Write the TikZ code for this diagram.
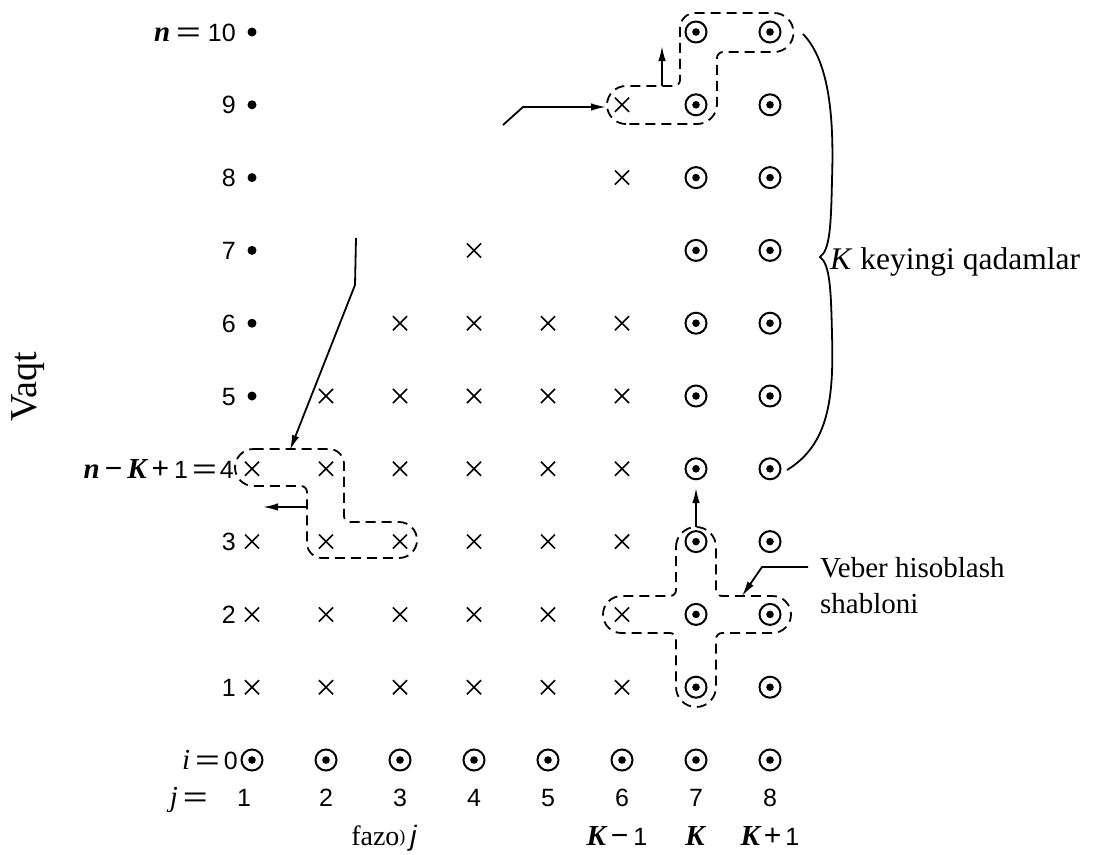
\documentclass[tikz,border=0pt]{standalone}
\usepackage{fontspec}
\usepackage{graphicx}
\setmainfont{Liberation Serif}
\setsansfont{Liberation Sans}
\usetikzlibrary{shapes.misc,arrows.meta}

% variable names, operators and a wide equals sign
\newcommand{\bivar}[1]{{\fontsize{29}{30}\selectfont\rmfamily\bfseries\itshape #1}}
\newcommand{\itvar}[1]{{\fontsize{29}{30}\selectfont\rmfamily\itshape #1}}
\newcommand{\bigop}[1]{{\fontsize{30}{30}\selectfont #1}}
\newcommand{\weq}{\scalebox{1.7}[1.1]{=}}

\begin{document}
\begin{tikzpicture}[x=1pt,y=-1pt,
  circmark/.style={circle,draw,line width=2pt,minimum size=21pt,inner sep=0pt,
    path picture={\fill (path picture bounding box.center) circle (3.8pt);}},
  crossmark/.style={cross out,draw,line width=1.6pt,minimum size=12.5pt,inner sep=0pt},
  dotmark/.style={circle,fill,minimum size=9pt,inner sep=0pt},
  lab/.style={inner sep=0pt,font=\fontsize{25}{29}\selectfont\sffamily},
  rowlab/.style={lab,anchor=base east},
  serif/.style={inner sep=0pt,font=\fontsize{29}{36}\selectfont\rmfamily},
  dashline/.style={line width=1.8pt,dash pattern=on 10pt off 6pt},
  arr/.style={line width=1.8pt,-{Latex[length=15pt,width=7.5pt]}},
  plain/.style={line width=1.8pt}]

\useasboundingbox (0,0) rectangle (1094,854);

% grid points: dots, crosses and circled dots
\foreach \n in {5,...,10}
  \node[dotmark] (d-\n) at (252,{760-72.8*\n}) {};
\foreach \j/\n in {6/9,6/8,4/7,3/6,4/6,5/6,6/6,2/5,3/5,4/5,5/5,6/5}
  \node[crossmark] (x-\j-\n) at ({252+74*(\j-1)},{760-72.8*\n}) {};
\foreach \n in {1,...,4}
  \foreach \j in {1,...,6}
    \node[crossmark] (x-\j-\n) at ({252+74*(\j-1)},{760-72.8*\n}) {};
\foreach \n in {1,...,10}
  \foreach \j in {7,8}
    \node[circmark] (c-\j-\n) at ({252+74*(\j-1)},{760-72.8*\n}) {};
\foreach \j in {1,...,8}
  \node[circmark] (c-\j-0) at ({252+74*(\j-1)},760) {};

% time level labels
\foreach \n in {1,2,3,5,6,7,8,9}
  \node[rowlab] (r-\n) at (236,{769-72.8*\n}) {\n};
\node[rowlab] (r-10) at (236,41) {\bivar{n}\hspace{6pt}\weq\hspace{7pt}10};
\node[rowlab] (r-4) at (234,478) {\bivar{n}\hspace{5pt}\bigop{−}\hspace{5pt}\bivar{K}\hspace{5pt}\bigop{+}\hspace{5pt}1\hspace{4pt}\weq\hspace{3pt}4};
\node[rowlab] (r-0) at (238,769) {\itvar{i}\hspace{5pt}\weq\hspace{4pt}0};

% space index labels
\node[lab,anchor=base east] (jeq) at (208,806) {\itvar{j}\hspace{5pt}\weq};
\node[lab,anchor=base] (j-1) at (244,806) {1};
\foreach \j in {2,...,8}
  \node[lab,anchor=base] (j-\j) at ({252+74*(\j-1)},806) {\j};
\node[lab,anchor=base] (k-6) at (617,845) {\bivar{K}\hspace{5pt}\bigop{−}\hspace{5pt}1};
\node[lab,anchor=base] (k-7) at (695,845) {\bivar{K}};
\node[lab,anchor=base] (k-8) at (770,845) {\bivar{K}\hspace{4pt}\bigop{+}\hspace{4pt}1};
\node[serif,anchor=base,font=\fontsize{28}{32}\selectfont\rmfamily] (space) at (384,845)
  {fazo{\fontsize{18}{18}\selectfont\raisebox{3pt}{)}}\hspace{5pt}{\sffamily\itshape j}};

% axis caption
\node[serif,rotate=90,anchor=base,font=\fontsize{38}{42}\selectfont\rmfamily] (time) at (36,387) {Vaqt};

% dashed stencils (screen angles: 0 right, 90 down)
\draw[dashline] (626,124) arc[start angle=90,end angle=270,radius=19]
  -- (674,86) arc[start angle=90,end angle=0,radius=6]
  -- (680,28) arc[start angle=180,end angle=270,radius=15]
  -- (774,13) arc[start angle=270,end angle=450,radius=19.5]
  -- (723,52) arc[start angle=270,end angle=180,radius=6]
  -- (717,104) arc[start angle=0,end angle=90,radius=20]
  -- cycle;

\draw[dashline] (253.5,449) -- (329,449) arc[start angle=270,end angle=360,radius=15]
  -- (344,516) arc[start angle=180,end angle=90,radius=6]
  -- (399,522) arc[start angle=270,end angle=450,radius=18]
  -- (322,558) arc[start angle=90,end angle=180,radius=15]
  -- (307,492) arc[start angle=0,end angle=-90,radius=6]
  -- (253.5,486) arc[start angle=90,end angle=270,radius=18.5]
  -- cycle;

\draw[dashline] (676,547) arc[start angle=180,end angle=360,radius=20]
  -- (716,590) arc[start angle=180,end angle=90,radius=6]
  -- (772.5,596) arc[start angle=270,end angle=450,radius=18.5]
  -- (722,633) arc[start angle=270,end angle=180,radius=6]
  -- (716,687) arc[start angle=0,end angle=180,radius=20]
  -- (676,639) arc[start angle=0,end angle=-90,radius=6]
  -- (621.5,633) arc[start angle=90,end angle=270,radius=18.5]
  -- (670,596) arc[start angle=90,end angle=0,radius=6]
  -- cycle;

% pointer arrows
\coordinate (a1s) at (503,125);
\coordinate (a1b) at (523,107);
\coordinate (a1e) at (606,107);
\draw[arr] (a1s) -- (a1b) -- (a1e);

\coordinate (a2s) at (356,238);
\coordinate (a2b) at (355,285);
\coordinate (a2e) at (290,450);
\draw[arr] (a2s) -- (a2b) -- (a2e);

\coordinate (a3s) at (662,86);
\coordinate (a3e) at (662,46);
\draw[arr] (a3s) -- (a3e);

\coordinate (a4s) at (307,507);
\coordinate (a4e) at (263,507);
\draw[arr] (a4s) -- (a4e);

\coordinate (a5s) at (696,527);
\coordinate (a5e) at (696,488);
\draw[arr] (a5s) -- (a5e);

% stencil caption
\node[serif,align=left,anchor=north west] (veber) at (820,557) {Veber hisoblash\\shabloni};
\coordinate (a6s) at (808,567);
\coordinate (a6b) at (762,567);
\coordinate (a6e) at (742,596);
\draw[arr] (a6s) -- (a6b) -- (a6e);

% brace over the K further steps
\coordinate (b-top) at (803,34);
\coordinate (b-mid) at (820,257);
\coordinate (b-bot) at (787,470);
\draw[plain] (b-top) .. controls (830,62) and (834,120) .. (832,180)
  .. controls (831,225) and (830,250) .. (b-mid)
  .. controls (830,264) and (831,290) .. (832,335)
  .. controls (834,400) and (828,445) .. (b-bot);
\node[serif,anchor=base west,font=\fontsize{31.5}{36}\selectfont\rmfamily] (steps) at (830,269)
  {\textit{K} keyingi qadamlar};

\end{tikzpicture}
\end{document}
